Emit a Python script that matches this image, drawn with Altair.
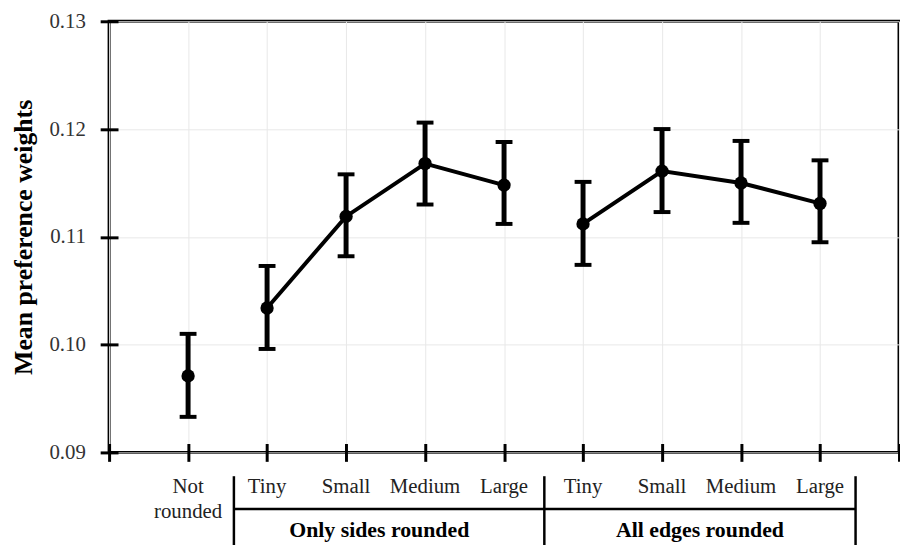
import altair as alt
import pandas as pd

# ---- data ----
positions = [1, 2, 3, 4, 5, 6, 7, 8, 9]
categories = ["Not\nrounded", "Tiny", "Small", "Medium", "Large",
              "Tiny", "Small", "Medium", "Large"]
groups = ["none", "sides", "sides", "sides", "sides",
          "edges", "edges", "edges", "edges"]
means = [0.0971, 0.1034, 0.1119, 0.1168, 0.1148, 0.1112, 0.1161, 0.1150, 0.1131]
lower = [0.0933, 0.0996, 0.1082, 0.1130, 0.1112, 0.1074, 0.1123, 0.1113, 0.1095]
upper = [0.1010, 0.1073, 0.1158, 0.1206, 0.1188, 0.1151, 0.1200, 0.1189, 0.1171]

group_labels = ["Only sides rounded", "All edges rounded"]
group_centers = [3.42, 7.48]
separators = [1.58, 5.51, 9.45]
bracket_start = [1.58]
bracket_end = [9.45]

x_ticks = [0, 1, 2, 3, 4, 5, 6, 7, 8, 9, 10]
y_ticks = [0.09, 0.10, 0.11, 0.12, 0.13]
y_title = "Mean preference weights"

FONT = "Liberation Serif"

df = pd.DataFrame({"pos": positions, "label": categories, "group": groups,
                   "mean": means, "lower": lower, "upper": upper})
df_groups = pd.DataFrame({"pos": group_centers, "label": group_labels})
df_sep = pd.DataFrame({"pos": separators})
df_br = pd.DataFrame({"x0": bracket_start, "x1": bracket_end})

x_scale = alt.Scale(domain=[0, 10], nice=False, zero=False)
y_scale = alt.Scale(domain=[0.09, 0.13], nice=False, zero=False)

x_axis = alt.Axis(values=x_ticks, labels=False, title=None, domain=False,
                  ticks=True, tickSize=18, tickWidth=3, tickColor="black",
                  offset=-9, grid=True, gridColor="#e8e8e8", gridWidth=1)
y_axis = alt.Axis(values=y_ticks, format=".2f", title=y_title, domain=False,
                  ticks=True, tickSize=18, tickWidth=3, tickColor="black",
                  offset=-9, grid=True, gridColor="#e8e8e8", gridWidth=1,
                  labelPadding=15, titlePadding=13)


def X(field):
    return alt.X(field, type="quantitative", scale=x_scale, axis=x_axis)


def Y(field):
    return alt.Y(field, type="quantitative", scale=y_scale, axis=y_axis)


base = alt.Chart(df)

stems = base.mark_rule(strokeWidth=5, color="black").encode(
    x=X("pos"), y=Y("lower"), y2="upper")
cap_lo = base.mark_tick(orient="horizontal", size=17, thickness=4,
                        color="black", opacity=1).encode(x=X("pos"), y=Y("lower"))
cap_hi = base.mark_tick(orient="horizontal", size=17, thickness=4,
                        color="black", opacity=1).encode(x=X("pos"), y=Y("upper"))
line = base.mark_line(strokeWidth=4, color="black").encode(
    x=X("pos"), y=Y("mean"), detail="group:N")
points = base.mark_circle(size=180, opacity=1, color="black").encode(
    x=X("pos"), y=Y("mean"))

cat_text = base.mark_text(font=FONT, fontSize=21, lineBreak="\n", lineHeight=25,
                          baseline="alphabetic", color="#222222").encode(
    x=X("pos"), y=alt.value(476), text="label:N")

grp_text = alt.Chart(df_groups).mark_text(
    font=FONT, fontSize=22, fontWeight="bold", baseline="alphabetic",
    color="black").encode(x=X("pos"), y=alt.value(520), text="label:N")

seps = alt.Chart(df_sep).mark_rule(strokeWidth=2.5, color="black").encode(
    x=X("pos"), y=alt.value(459), y2=alt.value(529))

bracket = alt.Chart(df_br).mark_rule(strokeWidth=2.5, color="black").encode(
    x=X("x0"), x2="x1", y=alt.value(492))

chart = alt.layer(stems, cap_lo, cap_hi, line, points, cat_text, grp_text,
                  seps, bracket).properties(
    width=797, height=435,
    padding={"left": 102, "top": 11, "right": 1, "bottom": 91},
    autosize=alt.AutoSizeParams(type="none"),
).configure_view(
    stroke="black", strokeWidth=3
).configure_axis(
    labelFont=FONT, labelFontSize=21, labelColor="#333333",
    titleFont=FONT, titleFontSize=26, titleFontWeight="bold", titleColor="black",
)

chart.save("out.html", embed_options={"renderer": "svg", "actions": False})
